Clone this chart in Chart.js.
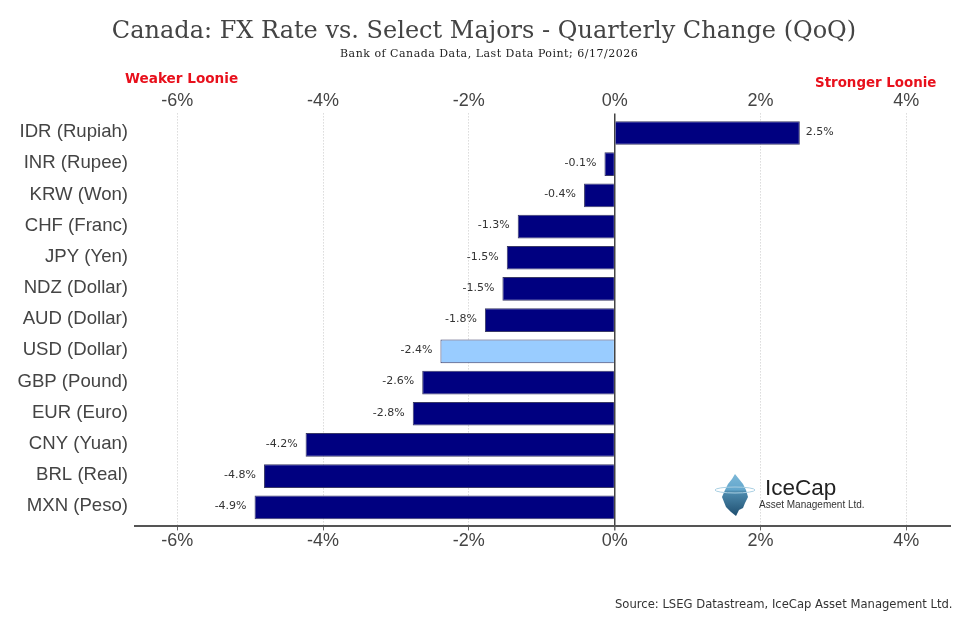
<!DOCTYPE html>
<html><head><meta charset="utf-8">
<style>
html,body{margin:0;padding:0;background:#fff;width:980px;height:626px;overflow:hidden}
#wrap{position:relative;width:980px;height:626px}
canvas{position:absolute;left:0;top:0}
.t{position:absolute;white-space:nowrap;line-height:1}
</style>
<script src="https://cdn.jsdelivr.net/npm/chart.js@4"></script>
</head><body>
<div id="wrap">
<canvas id="c" width="980" height="626"></canvas>
<div class="t" style="left:340px;top:47px;font:11px 'DejaVu Serif';letter-spacing:.5px;color:#222">Bank of Canada Data, Last Data Point; 6/17/2026</div>
<div class="t" style="left:125px;top:70px;font:bold 13.6px 'DejaVu Sans';color:#e8101c">Weaker Loonie</div>
<div class="t" style="left:815px;top:75px;font:bold 13.4px 'DejaVu Sans';color:#e8101c">Stronger Loonie</div>
<div class="t" style="left:615px;top:597px;font:11.6px 'DejaVu Sans';color:#333">Source: LSEG Datastream, IceCap Asset Management Ltd.</div>
<svg style="position:absolute;left:712px;top:470px" width="60" height="50" viewBox="0 0 60 50">
<defs><linearGradient id="g" x1="0" y1="0" x2="0" y2="1">
<stop offset="0" stop-color="#7db8d8"/><stop offset=".38" stop-color="#62a6cc"/><stop offset=".41" stop-color="#4f8db0"/><stop offset="1" stop-color="#1f4f70"/></linearGradient></defs>
<polygon points="23,4 27,9 31,14 34,20 36,27 33,33 31,38 27,40 24,46 19,42 14,37 10,27 13,20 16,14 20,9" fill="url(#g)"/>
<ellipse cx="23" cy="20" rx="20" ry="3" fill="none" stroke="#a9cfe2" stroke-width="1"/>
</svg>
<div class="t" style="left:765px;top:475px;font:22.5px 'Liberation Sans';color:#222">IceCap</div>
<div class="t" style="left:759px;top:499px;font:10px 'Liberation Sans';color:#333">Asset Management Ltd.</div>
</div>
<script>
const categories = ["IDR (Rupiah)","INR (Rupee)","KRW (Won)","CHF (Franc)","JPY (Yen)","NDZ (Dollar)","AUD (Dollar)","USD (Dollar)","GBP (Pound)","EUR (Euro)","CNY (Yuan)","BRL (Real)","MXN (Peso)"];
const qoqChange = [2.54,-0.14,-0.42,-1.33,-1.48,-1.54,-1.78,-2.39,-2.64,-2.77,-4.24,-4.81,-4.94];
const barColors = ["#000080","#000080","#000080","#000080","#000080","#000080","#000080","#99ccff","#000080","#000080","#000080","#000080","#000080"];
const tickValues = [-6,-4,-2,0,2,4];
const titleText = "Canada: FX Rate vs. Select Majors - Quarterly Change (QoQ)";

const valueLabels = {
  id:'valueLabels',
  afterDatasetsDraw(chart){
    const {ctx} = chart;
    const meta = chart.getDatasetMeta(0);
    ctx.save();
    ctx.font = "11px 'DejaVu Sans'";
    ctx.fillStyle = "#333";
    ctx.textBaseline = "middle";
    meta.data.forEach((bar,i)=>{
      const v = qoqChange[i];
      ctx.textAlign = v<0 ? "right" : "left";
      ctx.fillText(v.toFixed(1)+"%", bar.x + (v<0 ? -8 : 6), bar.y - 1);
    });
    ctx.restore();
  }
};
const xAxis = pos => ({
  type:'linear', position:pos, min:-6.58, max:4.6,
  afterBuildTicks(s){ s.ticks = tickValues.map(v=>({value:v})); },
  ticks:{ callback:v=>v+"%", font:{family:"Liberation Sans",size:18}, color:"#444", padding:pos==='top'?2:0, maxRotation:0, autoSkip:false },
  border:{ display:pos==='bottom', color:"#555", width:2, dash:c=>c.tick&&c.tick.value===0?[]:[1,2] },
  grid:{ drawOnChartArea:pos==='bottom', drawTicks:pos==='bottom', tickLength:4,
    color:c=>c.tick&&c.tick.value===0?"#444":"#c8c8c8",
    tickColor:"#666", lineWidth:c=>c.tick&&c.tick.value===0?1.5:1 }
});
new Chart(document.getElementById('c'),{
  type:'bar',
  plugins:[valueLabels],
  data:{labels:categories,datasets:[{data:qoqChange,backgroundColor:barColors,borderColor:"#3a3a66",borderWidth:1,categoryPercentage:1,barPercentage:0.76,xAxisID:'x'}]},
  options:{
    indexAxis:'y',responsive:false,animation:false,devicePixelRatio:1,
    layout:{padding:{left:18,right:30,top:17,bottom:74}},
    plugins:{legend:{display:false},tooltip:{enabled:false},
      title:{display:true,text:titleText,font:{family:"DejaVu Serif",size:24,weight:'normal'},color:"#444",padding:{top:0,bottom:42}}},
    scales:{
      x:xAxis('bottom'),
      x2:xAxis('top'),
      y:{type:'category',offset:true,grid:{display:false,drawTicks:false},border:{display:false},
        afterFit(s){s.width=117;},
        afterUpdate(s){ s._startValue=-0.628; s._valueRange=13.24; },
        ticks:{font:{family:"Liberation Sans",size:18.6},color:"#444",padding:7,labelOffset:-1}}
    }
  }
});
</script>
</body></html>
